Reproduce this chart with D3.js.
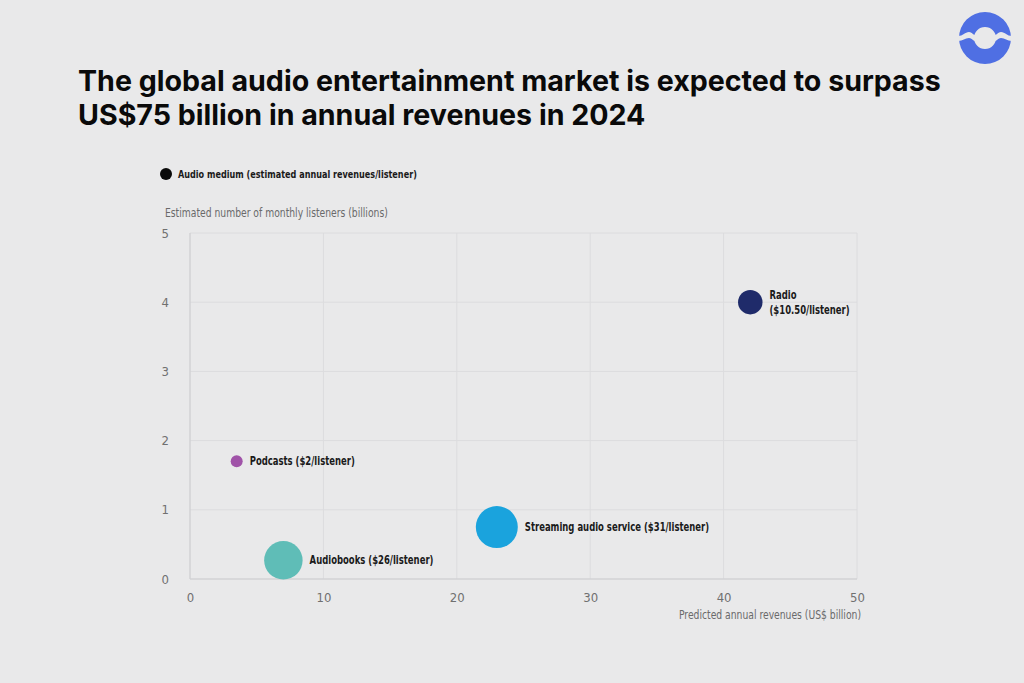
<!DOCTYPE html>
<html>
<head>
<meta charset="utf-8">
<script src="https://cdn.jsdelivr.net/npm/d3@7"></script>
<style>
  html, body { margin: 0; padding: 0; background: #e9e9ea; }
  svg { display: block; }
</style>
</head>
<body>
<div id="chart"></div>
<script>
// data
var media = ["Radio", "Podcasts", "Streaming audio service", "Audiobooks"];
var revenues = [42, 3.5, 23, 7];          // US$ billion
var listeners = [4.0, 1.7, 0.75, 0.27];   // billions
var perListener = [10.5, 2, 31, 26];      // US$ per listener
var labels = [["Radio", "($10.50/listener)"], ["Podcasts ($2/listener)"],
              ["Streaming audio service ($31/listener)"], ["Audiobooks ($26/listener)"]];
var colors = ["#1f2b6a", "#a053a8", "#1aa3dd", "#5fbdb7"];
var xTicks = [0, 10, 20, 30, 40, 50];
var yTicks = [0, 1, 2, 3, 4, 5];

var width = 1024, height = 683;
var margin = {left: 190, right: 167, top: 233, bottom: 104};
var condFont = "'DejaVu Sans Condensed', 'Liberation Sans Narrow', sans-serif";
var squeeze = 0.82;

var svg = d3.select("#chart").append("svg")
    .attr("width", width)
    .attr("height", height);

svg.append("rect").attr("width", width).attr("height", height).attr("fill", "#e9e9ea");

// narrow text: the condensed face is still wider than the original, so squeeze it a bit
function narrowText(parent, tx, ty, str) {
    return parent.append("text")
        .attr("transform", "translate(" + tx + "," + ty + ") scale(" + squeeze + ",1)")
        .attr("font-family", condFont)
        .text(str);
}

// title
var title = svg.append("text")
    .attr("x", 78)
    .attr("font-family", "Inter, 'Noto Sans', sans-serif")
    .attr("font-weight", 700)
    .attr("font-size", 28.6)
    .attr("fill", "#0a0a0a");
title.append("tspan").attr("x", 78).attr("y", 91).text("The global audio entertainment market is expected to surpass");
title.append("tspan").attr("x", 78).attr("y", 125).text("US$75 billion in annual revenues in 2024");

// logo
var logo = svg.append("g").attr("transform", "translate(985,38)");
logo.append("path")
    .attr("d", d3.arc().innerRadius(11).outerRadius(26).startAngle(0).endAngle(2 * Math.PI)())
    .attr("fill", "#4f6fe3");
logo.append("path")
    .attr("d", "M-27,-2 C-22,-2 -20,-6 -16,-6 C-13,-6 -12,-3 -10,-3 L-10,3 C-12,3 -13,0 -16,0 C-20,0 -22,3 -27,3 Z" +
               " M27,-2 C22,-2 20,-6 16,-6 C13,-6 12,-3 10,-3 L10,3 C12,3 13,0 16,0 C20,0 22,3 27,3 Z")
    .attr("fill", "#e9e9ea");

// legend
svg.append("circle").attr("cx", 166).attr("cy", 174).attr("r", 6).attr("fill", "#0a0a0a");
narrowText(svg, 178, 178, "Audio medium (estimated annual revenues/listener)")
    .attr("font-weight", 700)
    .attr("font-size", 11)
    .attr("fill", "#1a1a1a");

var x = d3.scaleLinear().domain([0, 50]).range([margin.left, width - margin.right]);
var y = d3.scaleLinear().domain([0, 5]).range([height - margin.bottom, margin.top]);
var r = d3.scaleSqrt().domain([0, 31]).range([0, 21]);

// grid
var grid = svg.append("g");
grid.selectAll(".vg").data(xTicks.slice(1)).enter().append("line")
    .attr("x1", function(d) { return x(d); }).attr("x2", function(d) { return x(d); })
    .attr("y1", y(5)).attr("y2", y(0))
    .attr("stroke", "#dcdcde").attr("stroke-width", 1);
grid.selectAll(".hg").data(yTicks.slice(1)).enter().append("line")
    .attr("x1", x(0)).attr("x2", x(50))
    .attr("y1", function(d) { return y(d); }).attr("y2", function(d) { return y(d); })
    .attr("stroke", "#dcdcde").attr("stroke-width", 1);
// axis lines
grid.append("line").attr("x1", x(0)).attr("x2", x(0)).attr("y1", y(5)).attr("y2", y(0))
    .attr("stroke", "#d2d2d4").attr("stroke-width", 1.5);
grid.append("line").attr("x1", x(0)).attr("x2", x(50)).attr("y1", y(0)).attr("y2", y(0))
    .attr("stroke", "#d2d2d4").attr("stroke-width", 1.5);

// axes (labels only)
var xAxis = svg.append("g")
    .attr("transform", "translate(0," + (y(0) + 11) + ")")
    .call(d3.axisBottom(x).tickValues(xTicks).tickSize(0).tickFormat(d3.format("d")));
var yAxis = svg.append("g")
    .attr("transform", "translate(" + (x(0) - 18) + ",0)")
    .call(d3.axisLeft(y).tickValues(yTicks).tickSize(0).tickFormat(d3.format("d")));
[xAxis, yAxis].forEach(function(a) {
    a.select(".domain").remove();
    a.selectAll("text")
        .attr("font-family", condFont)
        .attr("font-size", 13)
        .attr("fill", "#707070");
});

// axis titles
narrowText(svg, 165, 217, "Estimated number of monthly listeners (billions)")
    .attr("font-size", 12.5).attr("fill", "#6a6a6a");
narrowText(svg, 861, 619, "Predicted annual revenues (US$ billion)")
    .attr("text-anchor", "end")
    .attr("font-size", 12.5).attr("fill", "#6a6a6a");

// bubbles
var pts = media.map(function(m, i) {
    return {name: m, x: revenues[i], y: listeners[i], v: perListener[i], lines: labels[i], color: colors[i]};
});
var g = svg.append("g").selectAll(".pt").data(pts).enter().append("g");
g.append("circle")
    .attr("cx", function(d) { return x(d.x); })
    .attr("cy", function(d) { return y(d.y); })
    .attr("r", function(d) { return Math.max(r(d.v), 6); })
    .attr("fill", function(d) { return d.color; });
g.each(function(d) {
    var tx = x(d.x) + Math.max(r(d.v), 6) + 7;
    var n = d.lines.length;
    var gg = d3.select(this);
    d.lines.forEach(function(line, k) {
        narrowText(gg, tx, y(d.y) + 4 + (k - (n - 1) / 2) * 15, line)
            .attr("font-weight", 700)
            .attr("font-size", 11.5)
            .attr("fill", "#1a1a1a");
    });
});
</script>
</body>
</html>
